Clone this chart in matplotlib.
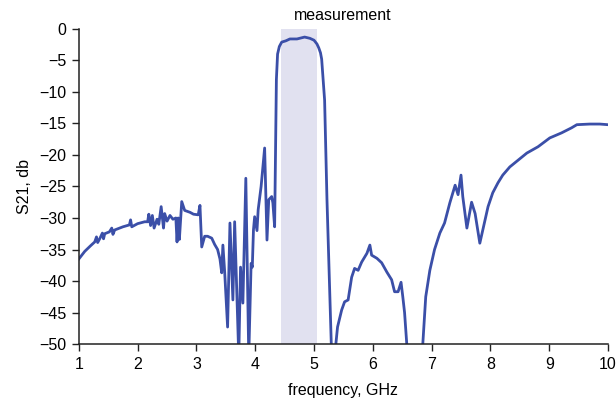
import matplotlib
matplotlib.use("Agg")
import matplotlib.pyplot as plt

plt.rcParams['font.family'] = ['Liberation Sans', 'DejaVu Sans']

freq = [1.00, 1.10, 1.20, 1.27, 1.30, 1.32, 1.36, 1.40, 1.42, 1.44, 1.52, 1.56, 1.58, 1.61,
        1.75, 1.86, 1.88, 1.90, 2.00, 2.12, 2.17, 2.19, 2.22, 2.25, 2.28, 2.33, 2.36, 2.40,
        2.44, 2.46, 2.50, 2.55, 2.60, 2.65, 2.67, 2.69, 2.71, 2.75, 2.80, 2.89, 2.95, 3.03,
        3.06, 3.09, 3.14, 3.19, 3.26, 3.31, 3.36, 3.40, 3.43, 3.45, 3.48, 3.53, 3.57, 3.62,
        3.65, 3.72, 3.75, 3.79, 3.84, 3.89, 3.93, 3.95, 3.97, 3.99, 4.03, 4.05, 4.10, 4.16,
        4.20, 4.23, 4.28, 4.30, 4.33, 4.35, 4.36, 4.38, 4.41, 4.45, 4.52, 4.59, 4.71, 4.84,
        4.93, 5.00, 5.05, 5.08, 5.11, 5.13, 5.18, 5.22, 5.30, 5.35, 5.40, 5.47, 5.52, 5.58,
        5.64, 5.69, 5.75, 5.81, 5.90, 5.95, 5.98, 6.07, 6.15, 6.24, 6.32, 6.37, 6.43, 6.48,
        6.51, 6.54, 6.60, 6.83, 6.90, 6.97, 7.05, 7.14, 7.22, 7.31, 7.40, 7.45, 7.50, 7.53,
        7.60, 7.68, 7.74, 7.82, 7.87, 7.96, 8.04, 8.13, 8.21, 8.33, 8.50, 8.62, 8.81, 9.01,
        9.21, 9.38, 9.47, 9.69, 9.86, 10.00]
s21 = [-36.5, -35.3, -34.4, -33.8, -33.0, -33.9, -33.2, -32.4, -33.3, -32.5, -32.2, -31.6, -32.6, -31.9,
       -31.4, -31.1, -30.3, -31.4, -30.9, -30.6, -30.6, -29.4, -31.2, -29.6, -31.6, -30.2, -31.0, -28.2,
       -31.6, -29.3, -30.5, -29.6, -30.2, -30.0, -33.8, -30.0, -33.4, -27.4, -28.8, -29.1, -29.4, -29.5,
       -28.0, -34.6, -32.9, -32.9, -33.2, -34.2, -35.0, -36.5, -38.7, -34.3, -38.5, -47.3, -30.8, -43.0,
       -30.6, -52.0, -37.8, -43.5, -23.7, -52.0, -37.2, -37.8, -31.9, -29.8, -32.0, -28.7, -25.0, -18.9,
       -33.5, -27.1, -26.6, -27.6, -31.4, -16.0, -8.0, -4.0, -2.8, -2.1, -1.9, -1.6, -1.6, -1.3,
       -1.5, -1.8, -2.4, -3.0, -3.8, -4.8, -11.3, -27.0, -52.0, -52.0, -47.3, -44.6, -43.3, -43.0,
       -39.4, -38.0, -38.3, -37.0, -35.6, -34.3, -35.9, -36.4, -37.1, -38.6, -39.8, -41.7, -41.7, -40.2,
       -42.5, -45.0, -53.0, -53.0, -42.5, -38.3, -35.0, -32.4, -30.8, -27.6, -24.8, -26.3, -23.2, -26.6,
       -31.6, -27.5, -29.3, -34.0, -31.9, -28.2, -26.0, -24.4, -23.2, -21.9, -20.6, -19.7, -18.7, -17.3,
       -16.5, -15.7, -15.2, -15.1, -15.1, -15.2]

band = (4.43, 5.05)
x_ticks = [1, 2, 3, 4, 5, 6, 7, 8, 9, 10]
y_ticks = [0, -5, -10, -15, -20, -25, -30, -35, -40, -45, -50]

fig = plt.figure(figsize=(6.16, 4.01), dpi=100)
ax = fig.add_axes([0.128, 0.142, 0.859, 0.786])

ax.axvspan(band[0], band[1], color='#e1e1f0', lw=0, zorder=0)
ax.plot(freq, s21, color='#3b4fa8', lw=2.0, solid_joinstyle='round', zorder=2)

ax.set_xlim(1, 10)
ax.set_ylim(-50, 0)
ax.set_xticks(x_ticks)
ax.set_yticks(y_ticks)
ax.set_yticklabels([str(v).replace('-', '\u2212') for v in y_ticks])

for s in ['top', 'right']:
    ax.spines[s].set_visible(False)
for s in ['left', 'bottom']:
    ax.spines[s].set_linewidth(1.1)
    ax.spines[s].set_color('#222222')
ax.tick_params(direction='out', length=5, width=1.0, labelsize=11.5, pad=4, color='#222222')

ax.set_xlabel('frequency, GHz', fontsize=11.5, labelpad=8)
ax.set_ylabel('S21, db', fontsize=11.5, labelpad=5)
ax.text(5.49, 2.1, 'measurement', ha='center', va='center', fontsize=11.5, clip_on=False)

fig.savefig('out.png', dpi=100)
